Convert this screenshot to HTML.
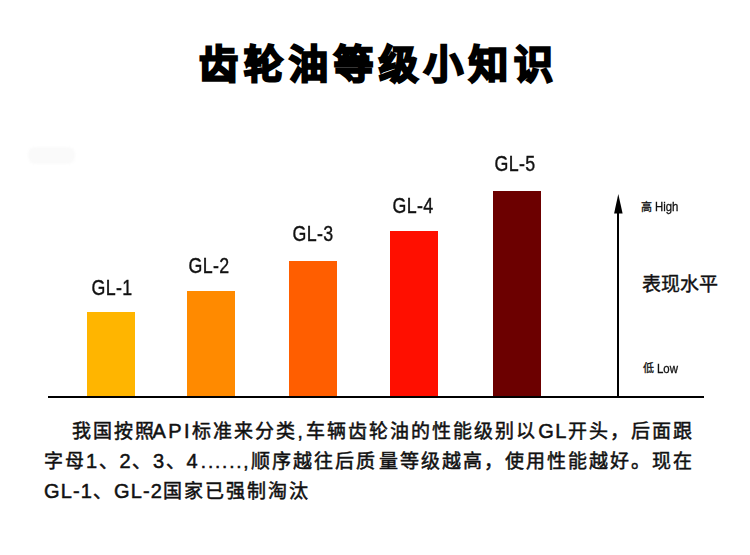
<!DOCTYPE html>
<html lang="zh-CN"><head><meta charset="utf-8">
<style>
html,body{margin:0;padding:0;background:#fff;}
body{width:750px;height:555px;position:relative;overflow:hidden;font-family:"Liberation Sans",sans-serif;color:#111;}
.a{position:absolute;}
.title{left:198.5px;top:36px;font-size:39px;letter-spacing:6.1px;font-weight:700;line-height:58px;white-space:nowrap;color:#000;-webkit-text-stroke:2.4px #000;}
.bar{position:absolute;bottom:159px;width:48px;}
.lbl{position:absolute;font-size:22px;letter-spacing:0.4px;line-height:22px;white-space:nowrap;color:#111;text-align:center;width:80px;transform:scaleX(0.81);-webkit-text-stroke:0.4px #111;}
.axis{left:48px;top:396px;width:656px;height:2px;background:#000;}
.shaft{left:617px;top:210px;width:2px;height:187px;background:#000;}
.L{font-size:20px;}
.txt{position:absolute;left:44px;font-size:19px;letter-spacing:2px;font-weight:400;-webkit-text-stroke:0.5px #111;line-height:30px;white-space:nowrap;color:#111;}
</style></head><body>
<div class="a" style="left:28px;top:147px;width:47px;height:17px;border-radius:7px;background:#fafafa;filter:blur(1px);"></div>
<div class="a title">齿轮油等级小知识</div>

<div class="bar" style="left:87px;top:312px;background:#ffb500;"></div>
<div class="bar" style="left:187px;top:291px;background:#ff8a00;"></div>
<div class="bar" style="left:289px;top:261px;background:#ff5e00;"></div>
<div class="bar" style="left:390px;top:231px;background:#ff0f00;"></div>
<div class="bar" style="left:493px;top:191px;background:#6c0000;"></div>

<div class="lbl" style="left:72px;top:277px;">GL-1</div>
<div class="lbl" style="left:168.5px;top:255px;">GL-2</div>
<div class="lbl" style="left:272.5px;top:223px;">GL-3</div>
<div class="lbl" style="left:373px;top:195px;">GL-4</div>
<div class="lbl" style="left:475px;top:153px;">GL-5</div>

<div class="a axis"></div>
<div class="a shaft"></div>
<svg class="a" style="left:605px;top:188px" width="26" height="32" viewBox="0 0 26 32"><path d="M13.3 6 L17.6 25.6 L9.1 25.6 Z" fill="#000"/></svg>

<div class="a" style="left:640.5px;top:199px;font-size:11px;line-height:16px;white-space:nowrap;-webkit-text-stroke:0.3px #111;">高</div>
<div class="a" style="left:654.5px;top:199px;font-size:12.5px;line-height:16px;white-space:nowrap;transform:scaleX(0.91);transform-origin:0 0;-webkit-text-stroke:0.3px #111;">High</div>
<div class="a" style="left:642px;top:273px;font-size:19px;letter-spacing:0.1px;line-height:24px;white-space:nowrap;-webkit-text-stroke:0.4px #111;">表现水平</div>
<div class="a" style="left:643px;top:360px;font-size:11px;line-height:16px;white-space:nowrap;-webkit-text-stroke:0.3px #111;">低</div>
<div class="a" style="left:656.5px;top:360.5px;font-size:12px;line-height:16px;white-space:nowrap;transform:scaleX(0.95);transform-origin:0 0;-webkit-text-stroke:0.3px #111;">Low</div>

<div class="txt" style="left:72px;top:416px;">我国按照<span class="L" style="margin-left:-3.5px;letter-spacing:2.4px">API</span><span style="margin-left:0.5px">标准来分类,</span><span style="margin-left:1.5px">车辆齿轮油的性能级别以</span><span style="margin-left:1px"><span class="L" style="letter-spacing:1.4px">GL</span>开头，后面跟</span></div>
<div class="txt" style="top:446px;">字母<span class="L" style="letter-spacing:1.4px">1</span>、<span class="L" style="letter-spacing:1.4px">2</span>、<span class="L" style="letter-spacing:1.4px">3</span>、<span class="L" style="letter-spacing:1.4px">4</span><span style="letter-spacing:1.8px;margin-left:1.7px">......</span>,顺序越往后质<span style="margin-left:2.5px">量等级越高，使用性能越好。现在</span></div>
<div class="txt" style="top:475.5px;"><span class="L" style="letter-spacing:1.15px">GL-1</span>、<span class="L" style="letter-spacing:1.15px">GL-2</span>国家已强制淘汰</div>
</body></html>
